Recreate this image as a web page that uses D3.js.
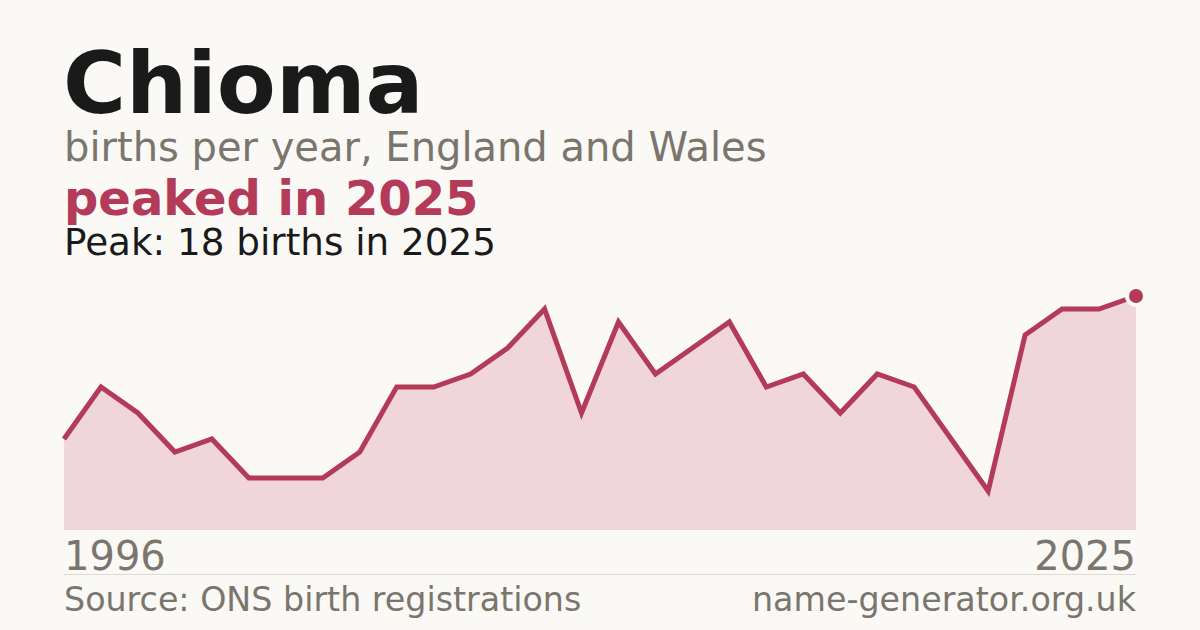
<!DOCTYPE html>
<html>
<head>
<meta charset="utf-8">
<script src="https://cdn.jsdelivr.net/npm/d3@7"></script>
<style>
  body { margin: 0; background: #faf9f5; }
  svg { display: block; font-family: "DejaVu Sans", sans-serif; }
</style>
</head>
<body>
<svg width="1200" height="630"></svg>
<script>
// births per year
var years = [1996, 1997, 1998, 1999, 2000, 2001, 2002, 2003, 2004, 2005,
             2006, 2007, 2008, 2009, 2010, 2011, 2012, 2013, 2014, 2015,
             2016, 2017, 2018, 2019, 2020, 2021, 2022, 2023, 2024, 2025];
var births = [7, 11, 9, 6, 7, 4, 4, 4, 6, 11,
              11, 12, 14, 17, 9, 16, 12, 14, 16, 11,
              12, 9, 12, 11, 7, 3, 15, 17, 17, 18];
var tickLabels = ['1996', '2025'];

var accent = '#b33a58';
var grey = '#7a756d';

var svg = d3.select('svg');

svg.append('rect').attr('width', 1200).attr('height', 630).attr('fill', '#faf9f5');

var data = years.map(function(y, i){ return {year: y, value: births[i]}; });

var x = d3.scaleLinear().domain([1996, 2025]).range([64, 1136]);
var y = d3.scaleLinear().domain([0, 18]).range([530, 296]);

//area under the line
var area = d3.area()
    .x(function(d){ return x(d.year); })
    .y0(y(0))
    .y1(function(d){ return y(d.value); });

svg.append('path')
    .datum(data)
    .attr('d', area)
    .attr('fill', '#f0d5da');

var line = d3.line()
    .x(function(d){ return x(d.year); })
    .y(function(d){ return y(d.value); });

svg.append('path')
    .datum(data)
    .attr('d', line)
    .attr('fill', 'none')
    .attr('stroke', accent)
    .attr('stroke-width', 5)
    .attr('stroke-linejoin', 'miter');

//peak marker
var peak = data[d3.maxIndex(data, function(d){ return d.value; })];
svg.append('circle')
    .attr('cx', x(peak.year))
    .attr('cy', y(peak.value))
    .attr('r', 9)
    .attr('fill', accent)
    .attr('stroke', '#faf9f5')
    .attr('stroke-width', 4);

//titles
svg.append('text').attr('x', 63).attr('y', 113)
    .attr('font-size', 86).attr('font-weight', 'bold').attr('fill', '#1a1a1a')
    .text('Chioma');
svg.append('text').attr('x', 64).attr('y', 161)
    .attr('font-size', 40).attr('fill', grey)
    .text('births per year, England and Wales');
svg.append('text').attr('x', 64).attr('y', 215)
    .attr('font-size', 48).attr('font-weight', 'bold').attr('fill', accent)
    .text('peaked in ' + peak.year);
svg.append('text').attr('x', 64).attr('y', 255)
    .attr('font-size', 37.3).attr('fill', '#1a1a1a')
    .text('Peak: ' + peak.value + ' births in ' + peak.year);

//year labels
svg.append('text').attr('x', x(+tickLabels[0])).attr('y', 570)
    .attr('font-size', 40).attr('fill', grey)
    .text(tickLabels[0]);
svg.append('text').attr('x', x(+tickLabels[1])).attr('y', 570)
    .attr('font-size', 40).attr('fill', grey).attr('text-anchor', 'end')
    .text(tickLabels[1]);

//divider and footer
svg.append('line')
    .attr('x1', 64).attr('x2', 1136).attr('y1', 574.5).attr('y2', 574.5)
    .attr('stroke', '#dddad3').attr('stroke-width', 1);
svg.append('text').attr('x', 64).attr('y', 611)
    .attr('font-size', 33.3).attr('fill', grey)
    .text('Source: ONS birth registrations');
svg.append('text').attr('x', 1136).attr('y', 611)
    .attr('font-size', 33.3).attr('fill', grey).attr('text-anchor', 'end')
    .text('name-generator.org.uk');
</script>
</body>
</html>
